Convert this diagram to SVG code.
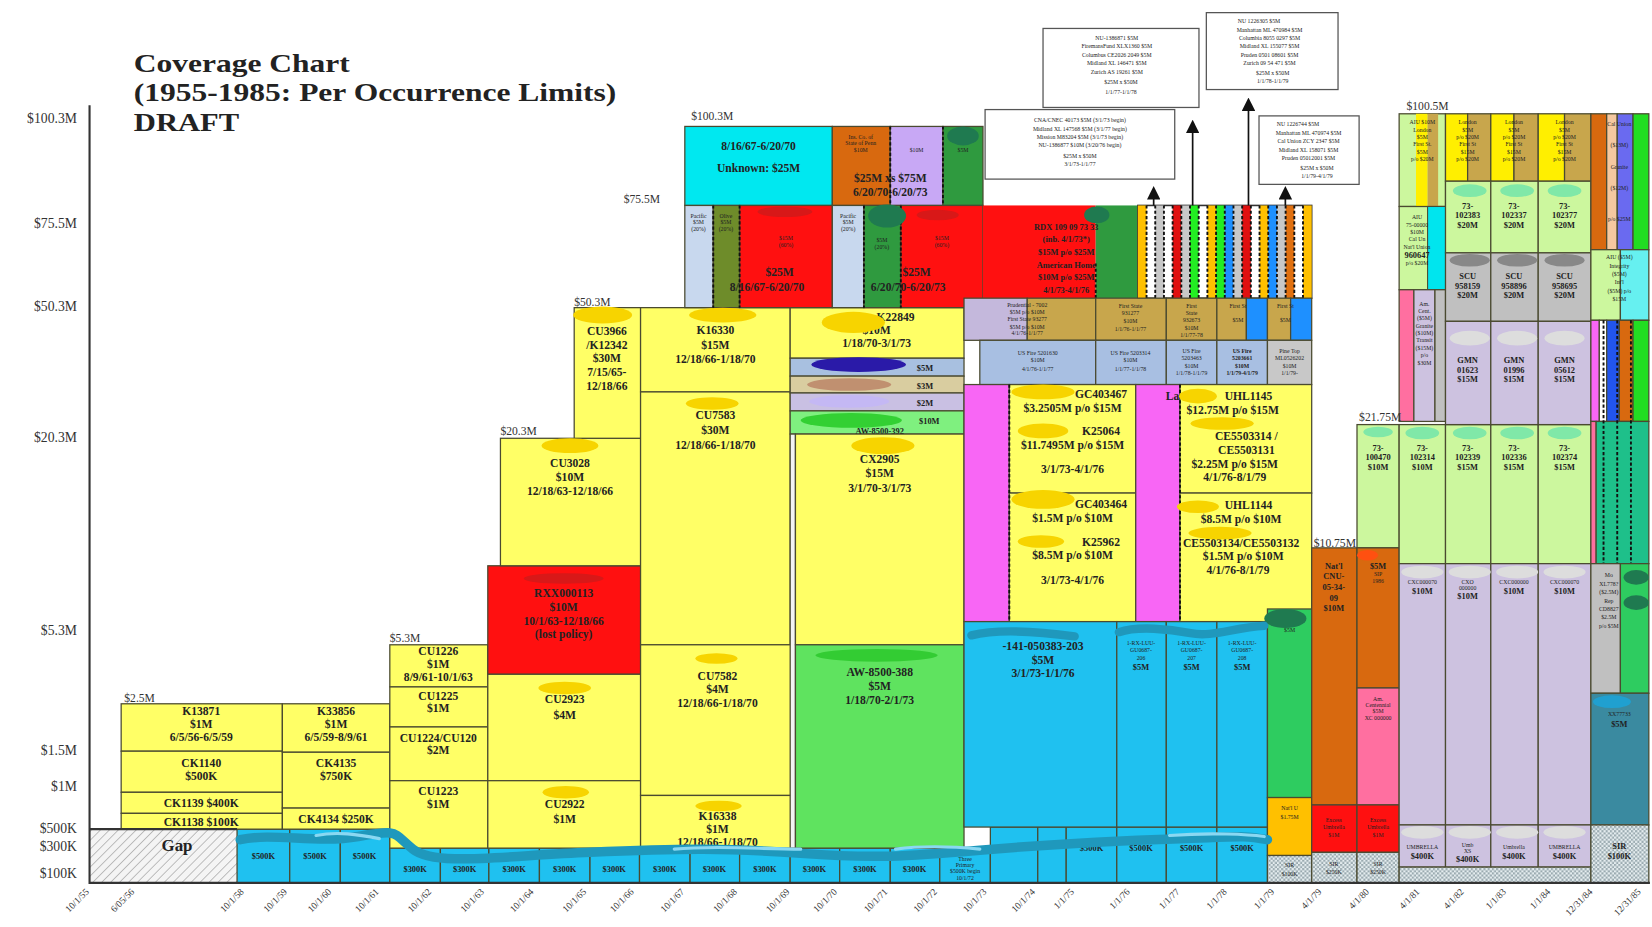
<svg xmlns="http://www.w3.org/2000/svg" width="1652" height="927" viewBox="0 0 1652 927">
<defs>
<style>
.b{stroke:#4a4a30;stroke-width:1.2}
.yl{fill:#ffff66}.rd{fill:#ff1010}.cy{fill:#1fc1f0}.gr{fill:#5fe35f}.lv{fill:#cdc2e0}.lg{fill:#ccf79e}
.gy{fill:#c0c0c0}.or{fill:#d8690f}.mg{fill:#f866f5}.pk{fill:#ff6fa0}.tn{fill:#c8a64c}.sb{fill:#a8bfe2}
.dg{fill:#2f9a3f}.wt{fill:#ffffff}
text{font-family:"Liberation Serif","Times New Roman",serif;fill:#222}
.t{font-size:11px;font-weight:bold;text-anchor:middle}
.m{font-size:8px;font-weight:bold;text-anchor:middle}
.s{font-size:5.5px;text-anchor:middle}
.ax{font-size:13px;text-anchor:end;fill:#333}
.xl{font-size:9px;text-anchor:end;fill:#333}
.lb{font-size:11px;fill:#333}
.dash{stroke:#111;stroke-width:1.8;stroke-dasharray:3 2;fill:none}
.blob{stroke:none}
</style>
<pattern id="hatch" width="6" height="6" patternUnits="userSpaceOnUse" patternTransform="rotate(45)"><rect width="6" height="6" fill="#f4f4f4"/><line x1="0" y1="0" x2="0" y2="6" stroke="#aaa" stroke-width="1.4"/></pattern>
<pattern id="chk" width="4" height="4" patternUnits="userSpaceOnUse"><rect width="4" height="4" fill="#e6eef0"/><rect width="2" height="2" fill="#9aaab0"/><rect x="2" y="2" width="2" height="2" fill="#9aaab0"/></pattern>
<marker id="ah" markerWidth="8" markerHeight="8" refX="4" refY="4" orient="auto"><path d="M0,0 L8,4 L0,8 z" fill="#111"/></marker>
</defs>
<rect width="1652" height="927" fill="#ffffff"/>
<g transform="scale(1.05357)">

<g id="title">
<text x="127" y="68" font-size="24" font-weight="bold" textLength="205" lengthAdjust="spacingAndGlyphs">Coverage Chart</text>
<text x="127" y="96" font-size="24" font-weight="bold" textLength="458" lengthAdjust="spacingAndGlyphs">(1955-1985: Per Occurrence Limits)</text>
<text x="127" y="124" font-size="24" font-weight="bold" textLength="100" lengthAdjust="spacingAndGlyphs">DRAFT</text>
</g>

<g id="yaxis">
<text class="ax" x="73" y="117">$100.3M</text>
<text class="ax" x="73" y="216">$75.5M</text>
<text class="ax" x="73" y="295">$50.3M</text>
<text class="ax" x="73" y="420">$20.3M</text>
<text class="ax" x="73" y="603">$5.3M</text>
<text class="ax" x="73" y="717">$1.5M</text>
<text class="ax" x="73" y="751">$1M</text>
<text class="ax" x="73" y="791">$500K</text>
<text class="ax" x="73" y="808">$300K</text>
<text class="ax" x="73" y="833">$100K</text>
</g>

<g id="gap">
<rect x="85" y="787" width="140" height="51" fill="url(#hatch)"/>
<text x="168" y="808" font-size="16" font-weight="bold" text-anchor="middle" fill="#333">Gap</text>
</g>

<g id="primary-blue">
<rect class="cy b" x="225" y="787" width="50" height="51"/>
<rect class="cy b" x="275" y="787" width="48" height="51"/>
<rect class="cy b" x="323" y="787" width="47" height="51"/>
<text class="m" x="250" y="815">$500K</text><text class="m" x="299" y="815">$500K</text><text class="m" x="346" y="815">$500K</text>
<rect class="cy b" x="370" y="805" width="48" height="33"/>
<rect class="cy b" x="418" y="805" width="46" height="33"/>
<rect class="cy b" x="464" y="805" width="48" height="33"/>
<rect class="cy b" x="512" y="805" width="48" height="33"/>
<rect class="cy b" x="560" y="805" width="47" height="33"/>
<rect class="cy b" x="607" y="805" width="48" height="33"/>
<rect class="cy b" x="655" y="805" width="47" height="33"/>
<rect class="cy b" x="702" y="805" width="48" height="33"/>
<rect class="cy b" x="750" y="805" width="47" height="33"/>
<rect class="cy b" x="797" y="805" width="48" height="33"/>
<rect class="cy b" x="845" y="805" width="47" height="33"/>
<rect class="cy b" x="892" y="805" width="48" height="33"/>
<text class="m" x="394" y="828">$300K</text><text class="m" x="441" y="828">$300K</text><text class="m" x="488" y="828">$300K</text>
<text class="m" x="536" y="828">$300K</text><text class="m" x="583" y="828">$300K</text><text class="m" x="631" y="828">$300K</text>
<text class="m" x="678" y="828">$300K</text><text class="m" x="726" y="828">$300K</text><text class="m" x="773" y="828">$300K</text>
<text class="m" x="821" y="828">$300K</text><text class="m" x="868" y="828">$300K</text>
<text class="s" x="916" y="817">Three</text><text class="s" x="916" y="823">Primary</text><text class="s" x="916" y="829">$500K begin</text><text class="s" x="916" y="835">10/1/72</text>
<rect class="cy b" x="940" y="785" width="45" height="53"/>
<rect class="cy b" x="985" y="785" width="27" height="53"/>
<rect class="cy b" x="1012" y="785" width="48" height="53"/>
<rect class="cy b" x="1060" y="785" width="47" height="53"/>
<rect class="cy b" x="1107" y="785" width="48" height="53"/>
<rect class="cy b" x="1155" y="785" width="48" height="53"/>
<text class="m" x="962" y="808">$500K</text><text class="m" x="1036" y="808">$500K</text><text class="m" x="1083" y="808">$500K</text><text class="m" x="1131" y="808">$500K</text><text class="m" x="1179" y="808">$500K</text>
</g>

<g id="block-1956">
<rect class="yl b" x="115" y="668" width="153" height="45"/>
<rect class="yl b" x="115" y="713" width="153" height="39"/>
<rect class="yl b" x="115" y="752" width="153" height="20"/>
<rect class="yl b" x="115" y="772" width="153" height="15"/>
<text class="t" x="191" y="679">K13871</text><text class="t" x="191" y="691">$1M</text><text class="t" x="191" y="703" font-size="9">6/5/56-6/5/59</text>
<text class="t" x="191" y="728">CK1140</text><text class="t" x="191" y="740">$500K</text>
<text class="t" x="191" y="766">CK1139   $400K</text>
<text class="t" x="191" y="784">CK1138   $100K</text>
</g>
<g id="block-1959">
<rect class="yl b" x="268" y="668" width="102" height="46"/>
<rect class="yl b" x="268" y="714" width="102" height="53"/>
<rect class="yl b" x="268" y="767" width="102" height="20"/>
<text class="t" x="319" y="679">K33856</text><text class="t" x="319" y="691">$1M</text><text class="t" x="319" y="703" font-size="9">6/5/59-8/9/61</text>
<text class="t" x="319" y="728">CK4135</text><text class="t" x="319" y="740">$750K</text>
<text class="t" x="319" y="781">CK4134  $250K</text>
</g>
<g id="block-1961">
<rect class="yl b" x="370" y="612" width="93" height="40"/>
<rect class="yl b" x="370" y="652" width="93" height="38"/>
<rect class="yl b" x="370" y="690" width="93" height="51"/>
<rect class="yl b" x="370" y="741" width="93" height="64"/>
<text class="t" x="416" y="622">CU1226</text><text class="t" x="416" y="634">$1M</text><text class="t" x="416" y="646" font-size="8.5">8/9/61-10/1/63</text>
<text class="t" x="416" y="664">CU1225</text><text class="t" x="416" y="676">$1M</text>
<text class="t" x="416" y="704" font-size="10">CU1224/CU120</text><text class="t" x="416" y="716">$2M</text>
<text class="t" x="416" y="755">CU1223</text><text class="t" x="416" y="767">$1M</text>
</g>
<g id="block-1963">
<rect class="rd b" x="463" y="537" width="145" height="103"/>
<text class="t" x="535" y="567" fill="#900">RXX000113</text><text class="t" x="535" y="580" fill="#900">$10M</text>
<text class="t" x="535" y="593" fill="#900">10/1/63-12/18/66</text><text class="t" x="535" y="606" fill="#900">(lost policy)</text>
<rect class="yl b" x="463" y="640" width="145" height="101"/>
<rect class="yl b" x="463" y="741" width="145" height="64"/>
<text class="t" x="536" y="667">CU2923</text><text class="t" x="536" y="682">$4M</text>
<text class="t" x="536" y="767">CU2922</text><text class="t" x="536" y="781">$1M</text>
<rect class="yl b" x="475" y="416" width="133" height="121"/>
<text class="t" x="541" y="443">CU3028</text><text class="t" x="541" y="457">$10M</text><text class="t" x="541" y="470">12/18/63-12/18/66</text>
<rect class="yl b" x="545" y="292" width="63" height="124"/>
<text class="t" x="576" y="318">CU3966</text><text class="t" x="576" y="331">/K12342</text><text class="t" x="576" y="344">$30M</text><text class="t" x="576" y="357">7/15/65-</text><text class="t" x="576" y="370">12/18/66</text>
</g>
<g id="block-1966">
<rect class="yl b" x="608" y="292" width="142" height="80"/>
<rect class="yl b" x="608" y="372" width="142" height="240"/>
<rect class="yl b" x="608" y="612" width="147" height="143"/>
<rect class="yl b" x="608" y="755" width="147" height="50"/>
<text class="t" x="679" y="317">K16330</text><text class="t" x="679" y="331">$15M</text><text class="t" x="679" y="345">12/18/66-1/18/70</text>
<text class="t" x="679" y="398">CU7583</text><text class="t" x="679" y="412">$30M</text><text class="t" x="679" y="426">12/18/66-1/18/70</text>
<text class="t" x="681" y="645">CU7582</text><text class="t" x="681" y="658">$4M</text><text class="t" x="681" y="671">12/18/66-1/18/70</text>
<text class="t" x="681" y="778">K16338</text><text class="t" x="681" y="791">$1M</text><text class="t" x="681" y="803">12/18/66-1/18/70</text>
</g>
<g id="block-1970">
<rect class="yl b" x="750" y="292" width="165" height="48"/>
<text class="t" x="850" y="305">K22849</text><text class="t" x="832" y="317">$10M</text><text class="t" x="832" y="329">1/18/70-3/1/73</text>
<rect class="b" x="750" y="340" width="165" height="17" fill="#a8c0e0"/><text class="m" x="878" y="352" font-size="9">$5M</text>
<rect class="b" x="750" y="357" width="165" height="16" fill="#d9cda0"/><text class="m" x="878" y="369" font-size="9">$3M</text>
<rect class="b" x="750" y="373" width="165" height="17" fill="#c9c0e3"/><text class="m" x="878" y="385" font-size="9">$2M</text>
<rect class="b" x="750" y="390" width="165" height="22" fill="#7ff07f"/><text class="m" x="882" y="402" font-size="9">$10M</text><text class="m" x="835" y="412" font-size="9">AW-8500-392</text>
<rect class="b" x="750" y="412" width="5" height="393" fill="#f4f4f4"/>
<rect class="yl b" x="755" y="412" width="160" height="200"/>
<text class="t" x="835" y="439">CX2905</text><text class="t" x="835" y="453">$15M</text><text class="t" x="835" y="467">3/1/70-3/1/73</text>
<rect class="gr b" x="755" y="612" width="160" height="193"/>
<text class="t" x="835" y="642">AW-8500-388</text><text class="t" x="835" y="655">$5M</text><text class="t" x="835" y="668">1/18/70-2/1/73</text>
</g>
<g id="excess-1967">
<rect class="b" x="650" y="120" width="140" height="75" fill="#00e8f0"/>
<text class="t" x="720" y="142" font-size="10">8/16/67-6/20/70</text><text class="t" x="720" y="163" font-size="10">Unknown: $25M</text>
<rect class="or b" x="790" y="120" width="55" height="75"/>
<text class="s" x="817" y="132">Ins. Co. of</text><text class="s" x="817" y="138">State of Penn</text><text class="s" x="817" y="144">$10M</text>
<rect class="b" x="845" y="120" width="50" height="75" fill="#c8a8f5"/><text class="s" x="870" y="144">$10M</text>
<rect class="dg b" x="895" y="120" width="38" height="75"/><text class="s" x="914" y="144">$5M</text>
<text class="t" x="845" y="173" font-size="10">$25M xs $75M</text><text class="t" x="845" y="186" font-size="10">6/20/70-6/20/73</text>
<rect class="b" x="650" y="195" width="27" height="97" fill="#c8d8ee"/>
<rect class="b" x="677" y="195" width="25" height="97" fill="#6e8c2a"/>
<rect class="rd b" x="702" y="195" width="88" height="97"/>
<rect class="b" x="790" y="195" width="30" height="97" fill="#c8d8ee"/>
<rect class="dg b" x="820" y="195" width="35" height="97"/>
<rect class="rd b" x="855" y="195" width="78" height="97"/>
<text class="s" x="663" y="207">Pacific</text><text class="s" x="663" y="213">$5M</text><text class="s" x="663" y="219">(20%)</text>
<text class="s" x="689" y="207">Olive</text><text class="s" x="689" y="213">$5M</text><text class="s" x="689" y="219">(20%)</text>
<text class="s" x="746" y="228">$15M</text><text class="s" x="746" y="234">(60%)</text>
<text class="s" x="805" y="207">Pacific</text><text class="s" x="805" y="213">$5M</text><text class="s" x="805" y="219">(20%)</text>
<text class="s" x="837" y="230">$5M</text><text class="s" x="837" y="236">(20%)</text>
<text class="s" x="894" y="228">$15M</text><text class="s" x="894" y="234">(60%)</text>
<text class="t" x="740" y="262" font-size="10">$25M</text><text class="t" x="728" y="276" font-size="10">8/16/67-6/20/70</text>
<text class="t" x="870" y="262" font-size="10">$25M</text><text class="t" x="862" y="276" font-size="10">6/20/70-6/20/73</text>
<path class="dash" d="M677,195V292M702,195V292M820,195V292M855,195V292M845,120V195M895,120V195"/>
</g>
<g id="excess-1973">
<rect class="rd" x="933" y="195" width="107" height="90"/>
<rect class="dg" x="1040" y="195" width="40" height="88"/>
<path class="dash" d="M1040,250V285"/>
<text class="m" x="1012" y="218">RDX 109 09 73 33</text><text class="m" x="1012" y="230">(inb. 4/1/73*)</text>
<text class="m" x="1012" y="242">$15M p/o $25M</text><text class="m" x="1012" y="254">American Home</text>
<text class="m" x="1012" y="266">$10M p/o $25M</text><text class="m" x="1012" y="278">4/1/73-4/1/76</text>
</g>
<g id="stripes-1976">
<rect x="1080" y="195" width="165" height="88" fill="#fff" stroke="#333" stroke-width="1.5"/>
<rect x="1080" y="195" width="8.25" height="88" fill="#ffc000"/>
<rect x="1096.5" y="195" width="8.25" height="88" fill="#c8c8c8"/>
<rect x="1113" y="195" width="8.25" height="88" fill="#e01010"/>
<rect x="1121.25" y="195" width="8.25" height="88" fill="#c8c8c8"/>
<rect x="1129.5" y="195" width="8.25" height="88" fill="#22ee22"/>
<rect x="1146" y="195" width="8.25" height="88" fill="#ffc000"/>
<rect x="1154.25" y="195" width="8.25" height="88" fill="#22ee22"/>
<rect x="1162.5" y="195" width="8.25" height="88" fill="#1e90ff"/>
<rect x="1170.75" y="195" width="8.25" height="88" fill="#c8c8c8"/>
<rect x="1179" y="195" width="8.25" height="88" fill="#e01010"/>
<rect x="1195.5" y="195" width="8.25" height="88" fill="#ffc000"/>
<rect x="1203.75" y="195" width="8.25" height="88" fill="#1e90ff"/>
<rect x="1212" y="195" width="8.25" height="88" fill="#c8c8c8"/>
<rect x="1220.25" y="195" width="8.25" height="88" fill="#e07010"/>
<rect x="1236.75" y="195" width="8.25" height="88" fill="#ffc000"/>
<path class="dash" stroke-width="1.3" d="M1088.25,195V283M1096.5,195V283M1104.75,195V283M1113,195V283M1121.25,195V283M1129.5,195V283M1137.75,195V283M1146,195V283M1154.25,195V283M1162.5,195V283M1170.75,195V283M1179,195V283M1187.25,195V283M1195.5,195V283M1203.75,195V283M1212,195V283M1220.25,195V283M1228.5,195V283M1236.75,195V283"/>
</g>
<g id="tan-row">
<rect class="b" x="915" y="283" width="60" height="40" fill="#c4b8dc"/>
<rect class="tn b" x="975" y="283" width="65" height="40"/>
<rect class="tn b" x="1040" y="283" width="67" height="40"/>
<rect class="tn b" x="1107" y="283" width="48" height="40"/>
<rect class="tn b" x="1155" y="283" width="28" height="40"/>
<rect class="b" x="1183" y="283" width="20" height="40" fill="#1e90ff"/>
<rect class="tn b" x="1203" y="283" width="22" height="40"/>
<rect class="b" x="1225" y="283" width="20" height="40" fill="#1e90ff"/>
<text class="s" x="975" y="291">Prudential - 7002</text><text class="s" x="975" y="298">$5M p/o $10M</text><text class="s" x="975" y="305">First State 93277</text><text class="s" x="975" y="312">$5M p/o $10M</text><text class="s" x="975" y="318">4/1/76-1/1/77</text>
<text class="s" x="1073" y="292">First State</text><text class="s" x="1073" y="299">931277</text><text class="s" x="1073" y="307">$10M</text><text class="s" x="1073" y="314">1/1/76-1/1/77</text>
<text class="s" x="1131" y="292">First</text><text class="s" x="1131" y="299">State</text><text class="s" x="1131" y="306">932673</text><text class="s" x="1131" y="313">$10M</text><text class="s" x="1131" y="320">1/1/77-78</text>
<text class="s" x="1175" y="292">First St</text><text class="s" x="1175" y="306">$5M</text>
<text class="s" x="1220" y="292">First St</text><text class="s" x="1220" y="306">$5M</text>
</g>
<g id="usfire-row">
<rect class="sb b" x="930" y="323" width="110" height="42"/>
<rect class="sb b" x="1040" y="323" width="67" height="42"/>
<rect class="sb b" x="1107" y="323" width="48" height="42"/>
<rect class="sb b" x="1155" y="323" width="48" height="42"/>
<rect class="b" x="1203" y="323" width="42" height="42" fill="#c8c8c8"/>
<text class="s" x="985" y="337">US Fire 5201630</text><text class="s" x="985" y="344">$10M</text><text class="s" x="985" y="352">4/1/76-1/1/77</text>
<text class="s" x="1073" y="337">US Fire 5203314</text><text class="s" x="1073" y="344">$10M</text><text class="s" x="1073" y="352">1/1/77-1/1/78</text>
<text class="s" x="1131" y="335">US Fire</text><text class="s" x="1131" y="342">5203463</text><text class="s" x="1131" y="349">$10M</text><text class="s" x="1131" y="356">1/1/78-1/1/79</text>
<text class="s" x="1179" y="335" font-weight="bold">US Fire</text><text class="s" x="1179" y="342" font-weight="bold">5203661</text><text class="s" x="1179" y="349" font-weight="bold">$10M</text><text class="s" x="1179" y="356" font-weight="bold">1/1/79-4/1/79</text>
<text class="s" x="1224" y="335">Pine Top</text><text class="s" x="1224" y="342">ML0526202</text><text class="s" x="1224" y="349">$10M</text><text class="s" x="1224" y="356">1/1/79-</text>
</g>
<g id="gc-blocks">
<rect class="mg b" x="915" y="365" width="43" height="225"/>
<rect class="yl b" x="958" y="365" width="120" height="103"/>
<rect class="yl b" x="958" y="468" width="120" height="122"/>
<path class="dash" d="M958,365V590"/>
<text class="t" x="1045" y="378" font-size="10">GC403467</text><text class="t" x="1018" y="391" font-size="10">$3.2505M p/o $15M</text>
<text class="t" x="1045" y="413" font-size="10">K25064</text><text class="t" x="1018" y="426" font-size="10">$11.7495M p/o $15M</text>
<text class="t" x="1018" y="449" font-size="10">3/1/73-4/1/76</text>
<text class="t" x="1045" y="482" font-size="10">GC403464</text><text class="t" x="1018" y="495" font-size="10">$1.5M p/o $10M</text>
<text class="t" x="1045" y="518" font-size="10">K25962</text><text class="t" x="1018" y="531" font-size="10">$8.5M p/o $10M</text>
<text class="t" x="1018" y="554" font-size="10">3/1/73-4/1/76</text>
</g>
<g id="uhl-blocks">
<rect class="mg b" x="1078" y="365" width="42" height="225"/>
<rect class="yl b" x="1120" y="365" width="125" height="103"/>
<rect class="yl b" x="1120" y="468" width="125" height="122"/>
<path class="dash" d="M1120,365V590"/>
<text class="t" x="1113" y="380" font-size="10">La</text><text class="t" x="1185" y="380" font-size="10">UHL1145</text>
<text class="t" x="1170" y="393" font-size="10">$12.75M p/o $15M</text>
<text class="t" x="1183" y="418" font-size="10">CE5503314 /</text><text class="t" x="1183" y="431" font-size="10">CE5503131</text>
<text class="t" x="1172" y="444" font-size="10">$2.25M p/o $15M</text><text class="t" x="1172" y="457" font-size="10">4/1/76-8/1/79</text>
<text class="t" x="1185" y="483" font-size="10">UHL1144</text><text class="t" x="1178" y="496" font-size="10">$8.5M p/o $10M</text>
<text class="t" x="1178" y="519" font-size="10">CE5503134/CE5503132</text><text class="t" x="1180" y="532" font-size="10">$1.5M p/o $10M</text>
<text class="t" x="1175" y="545" font-size="10">4/1/76-8/1/79</text>
</g>
<g id="blue-1973">
<rect class="cy b" x="915" y="590" width="145" height="195"/>
<rect class="cy b" x="1060" y="590" width="47" height="195"/>
<rect class="cy b" x="1107" y="590" width="48" height="195"/>
<rect class="cy b" x="1155" y="590" width="48" height="195"/>
<text class="t" x="990" y="617" font-size="10" fill="#123">-141-050383-203</text><text class="t" x="990" y="630" font-size="10" fill="#123">$5M</text><text class="t" x="990" y="643" font-size="10" fill="#123">3/1/73-1/1/76</text>
<text class="s" x="1083" y="612">1-RX-LUU-</text><text class="s" x="1083" y="619">GU0687-</text><text class="s" x="1083" y="626">206</text><text class="m" x="1083" y="636">$5M</text>
<text class="s" x="1131" y="612">1-RX-LUU-</text><text class="s" x="1131" y="619">GU0687-</text><text class="s" x="1131" y="626">207</text><text class="m" x="1131" y="636">$5M</text>
<text class="s" x="1179" y="612">1-RX-LUU-</text><text class="s" x="1179" y="619">GU0687-</text><text class="s" x="1179" y="626">208</text><text class="m" x="1179" y="636">$5M</text>
</g>
<g id="col-1979">
<rect class="b" x="1203" y="578" width="42" height="179" fill="#2ecc60"/><text class="s" x="1224" y="600">$5M</text>
<rect class="b" x="1203" y="757" width="42" height="55" fill="#ffc000"/><text class="s" x="1224" y="769">Nat'l U</text><text class="s" x="1224" y="777">$1.75M</text>
<rect class="b" x="1203" y="812" width="42" height="26" fill="url(#chk)"/><text class="s" x="1224" y="823">SIR</text><text class="s" x="1224" y="831">$100K</text>
</g>
<g id="col-1980">
<rect class="or b" x="1245" y="520" width="43" height="244"/>
<text class="m" x="1266" y="540" font-size="7">Nat'l</text><text class="m" x="1266" y="550" font-size="7">CNU-</text><text class="m" x="1266" y="560" font-size="7">05-34-</text><text class="m" x="1266" y="570" font-size="7">09</text><text class="m" x="1266" y="580" font-size="7">$10M</text>
<rect class="rd b" x="1245" y="764" width="43" height="45"/><text class="s" x="1266" y="780">Excess</text><text class="s" x="1266" y="787">Umbrella</text><text class="s" x="1266" y="794">$1M</text>
<rect class="b" x="1245" y="809" width="43" height="29" fill="url(#chk)"/><text class="s" x="1266" y="822">SIR</text><text class="s" x="1266" y="830">$250K</text>
<rect class="lg b" x="1288" y="403" width="40" height="117"/>
<text class="m" x="1308" y="428" font-size="7">73-</text><text class="m" x="1308" y="437" font-size="7">100470</text><text class="m" x="1308" y="446" font-size="7">$10M</text>
<rect class="or b" x="1288" y="520" width="40" height="133"/>
<text class="m" x="1308" y="540" font-size="7">$5M</text><text class="s" x="1308" y="547">SIP</text><text class="s" x="1308" y="553">1986</text>
<rect class="pk b" x="1288" y="653" width="40" height="111"/>
<text class="s" x="1308" y="665">Am.</text><text class="s" x="1308" y="671">Centennial</text><text class="s" x="1308" y="677">$5M</text><text class="s" x="1308" y="683">XC 000000</text>
<rect class="rd b" x="1288" y="764" width="40" height="45"/><text class="s" x="1308" y="780">Excess</text><text class="s" x="1308" y="787">Umbrella</text><text class="s" x="1308" y="794">$1M</text>
<rect class="b" x="1288" y="809" width="40" height="29" fill="url(#chk)"/><text class="s" x="1308" y="822">SIR</text><text class="s" x="1308" y="830">$250K</text>
</g>
<g id="cols-1981">
<rect class="lg b" x="1328" y="403" width="44" height="132"/>
<rect class="lg b" x="1372" y="403" width="43" height="132"/>
<rect class="lg b" x="1415" y="403" width="45" height="132"/>
<rect class="lg b" x="1460" y="403" width="50" height="132"/>
<text class="m" x="1350" y="428" font-size="7">73-</text><text class="m" x="1350" y="437" font-size="7">102314</text><text class="m" x="1350" y="446" font-size="7">$10M</text>
<text class="m" x="1393" y="428" font-size="7">73-</text><text class="m" x="1393" y="437" font-size="7">102339</text><text class="m" x="1393" y="446" font-size="7">$15M</text>
<text class="m" x="1437" y="428" font-size="7">73-</text><text class="m" x="1437" y="437" font-size="7">102336</text><text class="m" x="1437" y="446" font-size="7">$15M</text>
<text class="m" x="1485" y="428" font-size="7">73-</text><text class="m" x="1485" y="437" font-size="7">102374</text><text class="m" x="1485" y="446" font-size="7">$15M</text>
<rect class="lv b" x="1328" y="535" width="44" height="248"/>
<rect class="lv b" x="1372" y="535" width="43" height="248"/>
<rect class="lv b" x="1415" y="535" width="45" height="248"/>
<rect class="lv b" x="1460" y="535" width="50" height="248"/>
<text class="s" x="1350" y="554">CXC000070</text><text class="m" x="1350" y="564" font-size="7">$10M</text>
<text class="s" x="1393" y="554">CXO</text><text class="s" x="1393" y="560">000000</text><text class="m" x="1393" y="569" font-size="7">$10M</text>
<text class="s" x="1437" y="554">CXC000000</text><text class="m" x="1437" y="564" font-size="7">$10M</text>
<text class="s" x="1485" y="554">CXC000070</text><text class="m" x="1485" y="564" font-size="7">$10M</text>
<rect class="lv b" x="1328" y="783" width="44" height="40"/>
<rect class="lv b" x="1372" y="783" width="43" height="40"/>
<rect class="lv b" x="1415" y="783" width="45" height="40"/>
<rect class="lv b" x="1460" y="783" width="50" height="40"/>
<text class="s" x="1350" y="806">UMBRELLA</text><text class="m" x="1350" y="815" font-size="7">$400K</text>
<text class="s" x="1393" y="804">Umb</text><text class="s" x="1393" y="810">XS</text><text class="m" x="1393" y="818" font-size="7">$400K</text>
<text class="s" x="1437" y="806">Umbrella</text><text class="m" x="1437" y="815" font-size="7">$400K</text>
<text class="s" x="1485" y="806">UMBRELLA</text><text class="m" x="1485" y="815" font-size="7">$400K</text>
<rect class="b" x="1328" y="823" width="182" height="15" fill="url(#chk)"/>
</g>
<g id="upper-1981">
<rect class="lg b" x="1328" y="108" width="44" height="88"/>
<rect x="1344" y="108" width="11" height="88" fill="#ffef00"/><rect x="1355" y="108" width="10" height="88" fill="#c8a64c"/>
<text class="s" x="1350" y="118">AIU $10M</text><text class="s" x="1350" y="125">London</text><text class="s" x="1350" y="132">$5M</text><text class="s" x="1350" y="139">First St.</text><text class="s" x="1350" y="146">$5M</text><text class="s" x="1350" y="153">p/o $20M</text>
<rect class="lg b" x="1328" y="196" width="44" height="79"/>
<rect x="1355" y="196" width="17" height="79" fill="#00e5ee" stroke="#4a4a30" stroke-width="1"/>
<text class="s" x="1345" y="208">AIU</text><text class="s" x="1345" y="215">75-00000</text><text class="s" x="1345" y="222">$10M</text><text class="s" x="1345" y="229">Cal Un</text><text class="s" x="1345" y="236">Nat'l Union</text><text class="m" x="1345" y="245" font-size="6">960647</text><text class="s" x="1345" y="252">p/o $20M</text>
<rect class="pk b" x="1328" y="275" width="14" height="125"/>
<rect class="lv b" x="1342" y="275" width="20" height="125"/>
<rect class="gy b" x="1362" y="275" width="10" height="125"/>
<text class="s" x="1352" y="290">Am.</text><text class="s" x="1352" y="297">Cent.</text><text class="s" x="1352" y="304">($5M)</text><text class="s" x="1352" y="311">Granite</text><text class="s" x="1352" y="318">($10M)</text><text class="s" x="1352" y="325">Transit</text><text class="s" x="1352" y="332">($15M)</text><text class="s" x="1352" y="339">p/o</text><text class="s" x="1352" y="346">$30M</text>
<rect x="1372" y="108" width="21" height="64" fill="#ffef00" class="b"/><rect class="tn b" x="1393" y="108" width="22" height="64"/>
<rect x="1415" y="108" width="22" height="64" fill="#ffef00" class="b"/><rect class="tn b" x="1437" y="108" width="23" height="64"/>
<rect x="1460" y="108" width="25" height="64" fill="#ffef00" class="b"/><rect class="tn b" x="1485" y="108" width="25" height="64"/>
<text class="s" x="1393" y="118">London</text><text class="s" x="1393" y="125">$5M</text><text class="s" x="1393" y="132">p/o $20M</text><text class="s" x="1393" y="139">First St</text><text class="s" x="1393" y="146">$15M</text><text class="s" x="1393" y="153">p/o $20M</text>
<text class="s" x="1437" y="118">London</text><text class="s" x="1437" y="125">$5M</text><text class="s" x="1437" y="132">p/o $20M</text><text class="s" x="1437" y="139">First St</text><text class="s" x="1437" y="146">$15M</text><text class="s" x="1437" y="153">p/o $20M</text>
<text class="s" x="1485" y="118">London</text><text class="s" x="1485" y="125">$5M</text><text class="s" x="1485" y="132">p/o $20M</text><text class="s" x="1485" y="139">First St</text><text class="s" x="1485" y="146">$15M</text><text class="s" x="1485" y="153">p/o $20M</text>
<rect class="lg b" x="1372" y="172" width="43" height="68"/>
<rect class="lg b" x="1415" y="172" width="45" height="68"/>
<rect class="lg b" x="1460" y="172" width="50" height="68"/>
<text class="m" x="1393" y="198" font-size="7">73-</text><text class="m" x="1393" y="207" font-size="7">102383</text><text class="m" x="1393" y="216" font-size="7">$20M</text>
<text class="m" x="1437" y="198" font-size="7">73-</text><text class="m" x="1437" y="207" font-size="7">102337</text><text class="m" x="1437" y="216" font-size="7">$20M</text>
<text class="m" x="1485" y="198" font-size="7">73-</text><text class="m" x="1485" y="207" font-size="7">102377</text><text class="m" x="1485" y="216" font-size="7">$20M</text>
<rect class="gy b" x="1372" y="240" width="43" height="65"/>
<rect class="gy b" x="1415" y="240" width="45" height="65"/>
<rect class="gy b" x="1460" y="240" width="50" height="65"/>
<text class="m" x="1393" y="265" font-size="7">SCU</text><text class="m" x="1393" y="274" font-size="7">958159</text><text class="m" x="1393" y="283" font-size="7">$20M</text>
<text class="m" x="1437" y="265" font-size="7">SCU</text><text class="m" x="1437" y="274" font-size="7">958896</text><text class="m" x="1437" y="283" font-size="7">$20M</text>
<text class="m" x="1485" y="265" font-size="7">SCU</text><text class="m" x="1485" y="274" font-size="7">958695</text><text class="m" x="1485" y="283" font-size="7">$20M</text>
<rect class="lv b" x="1372" y="305" width="43" height="98"/>
<rect class="lv b" x="1415" y="305" width="45" height="98"/>
<rect class="lv b" x="1460" y="305" width="50" height="98"/>
<text class="m" x="1393" y="345" font-size="7">GMN</text><text class="m" x="1393" y="354" font-size="7">01623</text><text class="m" x="1393" y="363" font-size="7">$15M</text>
<text class="m" x="1437" y="345" font-size="7">GMN</text><text class="m" x="1437" y="354" font-size="7">01996</text><text class="m" x="1437" y="363" font-size="7">$15M</text>
<text class="m" x="1485" y="345" font-size="7">GMN</text><text class="m" x="1485" y="354" font-size="7">05612</text><text class="m" x="1485" y="363" font-size="7">$15M</text>
</g>
<g id="col-1985">
<rect class="or b" x="1510" y="108" width="15" height="129"/>
<rect class="b" x="1525" y="108" width="10" height="129" fill="#f5c8a0"/>
<rect class="b" x="1535" y="108" width="15" height="129" fill="#6a6af0"/>
<rect class="b" x="1550" y="108" width="15" height="129" fill="#22dd22"/>
<text class="s" x="1537" y="120">Cal Union</text><text class="s" x="1537" y="140">($13M)</text><text class="s" x="1537" y="160">Granite</text><text class="s" x="1537" y="180">($12M)</text><text class="s" x="1537" y="210">p/o $25M</text>
<rect class="lg b" x="1510" y="237" width="28" height="67"/>
<rect class="b" x="1538" y="237" width="27" height="67" fill="#66f0f0"/>
<text class="s" x="1537" y="246">AIU ($5M)</text><text class="s" x="1537" y="254">Integrity</text><text class="s" x="1537" y="262">($5M)</text><text class="s" x="1537" y="270">Int'l</text><text class="s" x="1537" y="278">($5M) p/o</text><text class="s" x="1537" y="286">$15M</text>
<rect class="mg b" x="1510" y="304" width="8" height="96"/>
<rect class="b" x="1518" y="304" width="7" height="96" fill="#ffffff"/>
<rect class="b" x="1525" y="304" width="12" height="96" fill="#2255ee"/>
<rect class="or b" x="1537" y="304" width="13" height="96"/>
<rect class="b" x="1550" y="304" width="15" height="96" fill="#22dd22"/>
<rect class="pk b" x="1510" y="400" width="5" height="135"/>
<rect class="b" x="1515" y="400" width="50" height="135" fill="#1ec08a"/>
<path class="dash" stroke-width="1.2" d="M1522,304V535M1535,304V535M1548,304V535"/>
<rect class="gy b" x="1510" y="535" width="28" height="123"/>
<rect class="b" x="1538" y="535" width="27" height="123" fill="#2ecc60"/>
<text class="s" x="1527" y="548">Mo</text><text class="s" x="1527" y="556">XL778?</text><text class="s" x="1527" y="564">($2.5M)</text><text class="s" x="1527" y="572">Rep</text><text class="s" x="1527" y="580">CD8827</text><text class="s" x="1527" y="588">$2.5M</text><text class="s" x="1527" y="596">p/o $5M</text>
<rect class="b" x="1510" y="658" width="55" height="125" fill="#3a8aa0"/>
<text class="s" x="1537" y="680">XX77733</text><text class="m" x="1537" y="690" font-size="7">$5M</text>
<rect class="b" x="1510" y="783" width="55" height="55" fill="url(#chk)"/>
<text class="m" x="1537" y="806">SIR</text><text class="m" x="1537" y="815">$100K</text>
</g>

<g id="notes">
<rect x="935" y="104" width="180" height="66" fill="#fff" stroke="#555" stroke-width="1.2"/>
<text class="s" x="1025" y="116">CNA/CNEC 40173 $5M (3/1/73 begin)</text><text class="s" x="1025" y="124">Midland XL 147568 $5M (3/1/77 begin)</text>
<text class="s" x="1025" y="132">Mission M83204 $5M (3/1/73 begin)</text><text class="s" x="1025" y="140">NU-1386877 $10M (3/20/76 begin)</text>
<text class="s" x="1025" y="150">$25M x $50M</text><text class="s" x="1025" y="158">3/1/73-1/1/77</text>
<rect x="990" y="27" width="148" height="75" fill="#fff" stroke="#555" stroke-width="1.2"/>
<text class="s" x="1060" y="38">NU-1386871 $5M</text><text class="s" x="1060" y="46">FiremansFund XLX1360 $5M</text><text class="s" x="1060" y="54">Columbus CE2026 2049 $5M</text>
<text class="s" x="1060" y="62">Midland XL 146471 $5M</text><text class="s" x="1060" y="70">Zurich AS 19261 $5M</text>
<text class="s" x="1064" y="80">$25M x $50M</text><text class="s" x="1064" y="89">1/1/77-1/1/78</text>
<rect x="1145" y="12" width="125" height="73" fill="#fff" stroke="#555" stroke-width="1.2"/>
<text class="s" x="1195" y="22">NU 1226305 $5M</text><text class="s" x="1205" y="30">Manhattan ML 470984 $5M</text><text class="s" x="1205" y="38">Columbia 8055 0297 $5M</text>
<text class="s" x="1205" y="46">Midland XL 155077 $5M</text><text class="s" x="1205" y="54">Pruden 0501 08601 $5M</text><text class="s" x="1205" y="62">Zurich 09 54 471 $5M</text>
<text class="s" x="1208" y="71">$25M x $50M</text><text class="s" x="1208" y="79">1/1/78-1/1/79</text>
<rect x="1195" y="110" width="95" height="65" fill="#fff" stroke="#555" stroke-width="1.2"/>
<text class="s" x="1232" y="120">NU 1226744 $5M</text><text class="s" x="1242" y="128">Manhattan ML 470974 $5M</text><text class="s" x="1242" y="136">Cal Union ZCY 2347 $5M</text>
<text class="s" x="1242" y="144">Midland XL 158071 $5M</text><text class="s" x="1242" y="152">Pruden 05012001 $5M</text>
<text class="s" x="1250" y="161">$25M x $50M</text><text class="s" x="1250" y="169">1/1/79-4/1/79</text>
</g>

<g id="connectors" stroke="#111" stroke-width="1.6" fill="none">
<path d="M1095,195V183" marker-end="url(#ah)"/>
<path d="M1132,195V120" marker-end="url(#ah)"/>
<path d="M1185,195V99" marker-end="url(#ah)"/>
<path d="M1220,195V183" marker-end="url(#ah)"/>
</g>

<g id="level-labels">
<text class="lb" x="656" y="114">$100.3M</text>
<text class="lb" x="592" y="193" font-size="10">$75.5M</text>
<text class="lb" x="545" y="290" font-size="10">$50.3M</text>
<text class="lb" x="475" y="413" font-size="10">$20.3M</text>
<text class="lb" x="370" y="609" font-size="10">$5.3M</text>
<text class="lb" x="118" y="666" font-size="10">$2.5M</text>
<text class="lb" x="1247" y="519" font-size="7">$10.75M</text>
<text class="lb" x="1290" y="400" font-size="7">$21.75M</text>
<text class="lb" x="1335" y="104">$100.5M</text>
</g>

<g id="redactions" class="blob">
<ellipse cx="572" cy="299" rx="28" ry="8" fill="#f7d400"/>
<ellipse cx="686" cy="299" rx="32" ry="7" fill="#f7d400"/>
<ellipse cx="810" cy="306" rx="30" ry="10" fill="#f7d400"/>
<ellipse cx="541" cy="423" rx="27" ry="7" fill="#f7d400"/>
<ellipse cx="676" cy="383" rx="25" ry="6" fill="#f7d400"/>
<ellipse cx="536" cy="653" rx="25" ry="6" fill="#f7d400"/>
<ellipse cx="537" cy="752" rx="22" ry="6" fill="#f7d400"/>
<ellipse cx="680" cy="625" rx="20" ry="5" fill="#f7d400"/>
<ellipse cx="682" cy="765" rx="22" ry="5" fill="#f7d400"/>
<ellipse cx="838" cy="423" rx="30" ry="8" fill="#f7d400"/>
<ellipse cx="990" cy="372" rx="30" ry="7" fill="#f7d400"/>
<ellipse cx="990" cy="409" rx="24" ry="7" fill="#f7d400"/>
<ellipse cx="990" cy="474" rx="30" ry="9" fill="#f7d400"/>
<ellipse cx="988" cy="514" rx="22" ry="6" fill="#f7d400"/>
<ellipse cx="1137" cy="376" rx="18" ry="7" fill="#f7d400"/>
<ellipse cx="1160" cy="402" rx="30" ry="6" fill="#f7d400"/>
<ellipse cx="1137" cy="481" rx="20" ry="6" fill="#f7d400"/>
<ellipse cx="1158" cy="506" rx="30" ry="6" fill="#f7d400"/>
<ellipse cx="815" cy="346" rx="45" ry="7" fill="#2a1aa8"/>
<ellipse cx="806" cy="365" rx="40" ry="6" fill="#c09070"/>
<ellipse cx="806" cy="381" rx="38" ry="6" fill="#c4b8f4"/>
<ellipse cx="808" cy="399" rx="48" ry="7" fill="#33d033"/>
<ellipse cx="832" cy="622" rx="58" ry="6" fill="#33cc33"/>
<ellipse cx="745" cy="201" rx="26" ry="5" fill="#d81818"/>
<ellipse cx="890" cy="204" rx="20" ry="5" fill="#d81818"/>
<ellipse cx="535" cy="549" rx="38" ry="5" fill="#d81818"/>
<ellipse cx="842" cy="205" rx="18" ry="11" fill="#1f7a50"/>
<ellipse cx="914" cy="129" rx="15" ry="9" fill="#1f7a50"/>
<ellipse cx="1041" cy="204" rx="12" ry="8" fill="#1f7a50"/>
<ellipse cx="1220" cy="587" rx="20" ry="9" fill="#1f7a50"/>
<ellipse cx="1553" cy="548" rx="12" ry="7" fill="#1f7a50"/>
<ellipse cx="1553" cy="572" rx="12" ry="7" fill="#1f7a50"/>
<ellipse cx="1298" cy="527" rx="10" ry="5" fill="#ff5010"/>
<ellipse cx="1395" cy="181" rx="16" ry="6" fill="#80e8a8"/>
<ellipse cx="1440" cy="181" rx="16" ry="6" fill="#80e8a8"/>
<ellipse cx="1485" cy="181" rx="16" ry="6" fill="#80e8a8"/>
<ellipse cx="1308" cy="410" rx="14" ry="5" fill="#80e8a8"/>
<ellipse cx="1350" cy="411" rx="16" ry="6" fill="#80e8a8"/>
<ellipse cx="1395" cy="411" rx="16" ry="6" fill="#80e8a8"/>
<ellipse cx="1440" cy="411" rx="16" ry="6" fill="#80e8a8"/>
<ellipse cx="1485" cy="411" rx="16" ry="6" fill="#80e8a8"/>
<ellipse cx="1395" cy="247" rx="19" ry="6" fill="#888888"/>
<ellipse cx="1440" cy="247" rx="19" ry="6" fill="#888888"/>
<ellipse cx="1485" cy="247" rx="19" ry="6" fill="#888888"/>
<ellipse cx="1395" cy="321" rx="19" ry="7" fill="#dddddd"/>
<ellipse cx="1440" cy="321" rx="19" ry="7" fill="#dddddd"/>
<ellipse cx="1485" cy="321" rx="19" ry="7" fill="#dddddd"/>
<ellipse cx="1350" cy="543" rx="20" ry="6" fill="#dddddd"/>
<ellipse cx="1395" cy="543" rx="20" ry="6" fill="#dddddd"/>
<ellipse cx="1440" cy="543" rx="20" ry="6" fill="#dddddd"/>
<ellipse cx="1485" cy="543" rx="20" ry="6" fill="#dddddd"/>
<ellipse cx="1350" cy="790" rx="20" ry="6" fill="#dddddd"/>
<ellipse cx="1395" cy="790" rx="20" ry="6" fill="#dddddd"/>
<ellipse cx="1440" cy="790" rx="20" ry="6" fill="#dddddd"/>
<ellipse cx="1485" cy="790" rx="20" ry="6" fill="#dddddd"/>
<ellipse cx="1530" cy="666" rx="18" ry="6" fill="#20a0d0"/>
<path d="M228,797 C260,790 300,801 340,794 S372,790 392,806 S470,813 560,809 S690,805 760,810 S860,813 930,807 S1060,798 1120,796 S1180,793 1203,797" stroke="#1f98bc" stroke-width="9" fill="none" stroke-linecap="round"/>
<path d="M300,793 C320,789 340,792 360,796 M640,806 C680,802 720,806 760,806 M850,806 C880,802 910,804 930,806 M1110,793 C1150,790 1185,792 1200,794" stroke="#8ad8f2" stroke-width="3" fill="none" stroke-linecap="round"/>
<path d="M922,603 C950,596 990,600 1020,604 M1062,600 C1080,594 1110,597 1130,601 S1170,596 1200,594" stroke="#1f98bc" stroke-width="8" fill="none" stroke-linecap="round"/>
</g>

<g id="axes" stroke="#333" stroke-width="2" fill="none">
<path d="M85,100V838H1566"/>
<path d="M85,787H225" stroke-width="2.2"/>
</g>

<g id="xlabels">
<text class="xl" x="85" y="847" transform="rotate(-45 85 847)">10/1/55</text>
<text class="xl" x="128" y="847" transform="rotate(-45 128 847)">6/05/56</text>
<text class="xl" x="232" y="847" transform="rotate(-45 232 847)">10/1/58</text>
<text class="xl" x="273" y="847" transform="rotate(-45 273 847)">10/1/59</text>
<text class="xl" x="315" y="847" transform="rotate(-45 315 847)">10/1/60</text>
<text class="xl" x="360" y="847" transform="rotate(-45 360 847)">10/1/61</text>
<text class="xl" x="410" y="847" transform="rotate(-45 410 847)">10/1/62</text>
<text class="xl" x="460" y="847" transform="rotate(-45 460 847)">10/1/63</text>
<text class="xl" x="507" y="847" transform="rotate(-45 507 847)">10/1/64</text>
<text class="xl" x="557" y="847" transform="rotate(-45 557 847)">10/1/65</text>
<text class="xl" x="602" y="847" transform="rotate(-45 602 847)">10/1/66</text>
<text class="xl" x="650" y="847" transform="rotate(-45 650 847)">10/1/67</text>
<text class="xl" x="700" y="847" transform="rotate(-45 700 847)">10/1/68</text>
<text class="xl" x="750" y="847" transform="rotate(-45 750 847)">10/1/69</text>
<text class="xl" x="795" y="847" transform="rotate(-45 795 847)">10/1/70</text>
<text class="xl" x="843" y="847" transform="rotate(-45 843 847)">10/1/71</text>
<text class="xl" x="890" y="847" transform="rotate(-45 890 847)">10/1/72</text>
<text class="xl" x="937" y="847" transform="rotate(-45 937 847)">10/1/73</text>
<text class="xl" x="983" y="847" transform="rotate(-45 983 847)">10/1/74</text>
<text class="xl" x="1020" y="847" transform="rotate(-45 1020 847)">1/1/75</text>
<text class="xl" x="1073" y="847" transform="rotate(-45 1073 847)">1/1/76</text>
<text class="xl" x="1120" y="847" transform="rotate(-45 1120 847)">1/1/77</text>
<text class="xl" x="1165" y="847" transform="rotate(-45 1165 847)">1/1/78</text>
<text class="xl" x="1210" y="847" transform="rotate(-45 1210 847)">1/1/79</text>
<text class="xl" x="1255" y="847" transform="rotate(-45 1255 847)">4/1/79</text>
<text class="xl" x="1300" y="847" transform="rotate(-45 1300 847)">4/1/80</text>
<text class="xl" x="1348" y="847" transform="rotate(-45 1348 847)">4/1/81</text>
<text class="xl" x="1390" y="847" transform="rotate(-45 1390 847)">4/1/82</text>
<text class="xl" x="1430" y="847" transform="rotate(-45 1430 847)">1/1/83</text>
<text class="xl" x="1472" y="847" transform="rotate(-45 1472 847)">1/1/84</text>
<text class="xl" x="1512" y="847" transform="rotate(-45 1512 847)">12/31/84</text>
<text class="xl" x="1558" y="847" transform="rotate(-45 1558 847)">12/31/85</text>
</g>
</g>
</svg>
